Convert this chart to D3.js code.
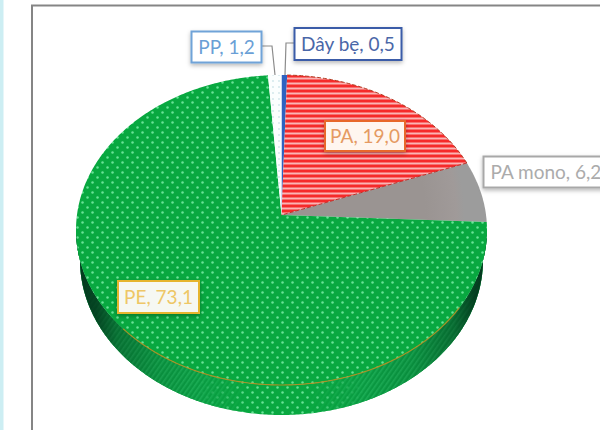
<!DOCTYPE html>
<html>
<head>
<meta charset="utf-8">
<script src="https://cdn.jsdelivr.net/npm/d3@7/dist/d3.min.js"></script>
<style>
  html, body { margin: 0; padding: 0; background: #fff; }
  svg { display: block; }
  text { font-family: Lato, "Open Sans", sans-serif; }
</style>
</head>
<body>
<svg id="chart" width="600" height="430"></svg>
<script>
// Plastic-fibre composition, percent by material (clockwise from 12 o'clock)
const categories = ["Dây bẹ", "PA", "PA mono", "PE", "PP"];
const values = [0.5, 19.0, 6.2, 73.1, 1.2];

// Tilted disc geometry: an ellipse whose apex sits above its centre, as in a perspective view
const cx = 281.5, cyDisc = 230, rx = 205.5, ry = 155, apexY = 215;
const squash = 0.78, wallDrop = 30, wallRx = 201.5;
const twoPi = 2 * Math.PI;

const svg = d3.select("#chart");
const defs = svg.append("defs");

// Page furniture: tinted sliver on the left and the frame of the chart area
svg.append("rect").attr("x", 0).attr("y", 0).attr("width", 3.5).attr("height", 430).attr("fill", "#cdeef3");
svg.append("path").attr("d", "M32,430V5.5H600").attr("fill", "none").attr("stroke", "#858585").attr("stroke-width", 2);

// Fill patterns for each material
const dots = defs.append("pattern").attr("id", "fillPE").attr("patternUnits", "userSpaceOnUse")
  .attr("width", 10).attr("height", 10);
dots.append("rect").attr("width", 10).attr("height", 10).attr("fill", "#08a840");
[[2.5, 2.5], [7.5, 7.5]].forEach(([x, y]) =>
  dots.append("circle").attr("cx", x).attr("cy", y).attr("r", 1.25).attr("fill", "#68e296"));

const stripes = defs.append("pattern").attr("id", "fillPA").attr("patternUnits", "userSpaceOnUse")
  .attr("width", 5).attr("height", 5);
stripes.append("rect").attr("width", 5).attr("height", 5).attr("fill", "#f62a2a");
stripes.append("rect").attr("y", 2.5).attr("width", 5).attr("height", 2).attr("fill", "#fbb4b4");

const pale = defs.append("pattern").attr("id", "fillPP").attr("patternUnits", "userSpaceOnUse")
  .attr("width", 6).attr("height", 6);
pale.append("rect").attr("width", 6).attr("height", 6).attr("fill", "#fbfefe");
pale.append("circle").attr("cx", 3).attr("cy", 3).attr("r", 0.9).attr("fill", "#cfe6ea");

const mono = defs.append("radialGradient").attr("id", "fillMono").attr("gradientUnits", "userSpaceOnUse")
  .attr("cx", cx).attr("cy", apexY).attr("r", rx);
mono.append("stop").attr("offset", "0.7").attr("stop-color", "#9a9492");
mono.append("stop").attr("offset", "0.85").attr("stop-color", "#a09a99");
mono.append("stop").attr("offset", "0.89").attr("stop-color", "#9c9c9c");

const wallStripes = defs.append("pattern").attr("id", "fillWall").attr("patternUnits", "userSpaceOnUse")
  .attr("width", 4).attr("height", 4).attr("patternTransform", "rotate(35)");
wallStripes.append("rect").attr("width", 4).attr("height", 4).attr("fill", "#0a9a42");
wallStripes.append("rect").attr("width", 1.6).attr("height", 4).attr("fill", "#1cae56");

// Wall shading: ribbed towards the sides, dotted in the middle, dark at the far ends
const ribFade = defs.append("linearGradient").attr("id", "ribFade").attr("gradientUnits", "userSpaceOnUse")
  .attr("x1", cx - rx).attr("x2", cx + rx).attr("y1", 0).attr("y2", 0);
[[0, 1], [0.3, 1], [0.42, 0], [0.56, 0], [0.7, 1], [1, 1]]
  .forEach(([o, a]) => ribFade.append("stop").attr("offset", o).attr("stop-color", "#fff").attr("stop-opacity", a));
defs.append("mask").attr("id", "ribMask").attr("maskUnits", "userSpaceOnUse")
  .attr("x", 0).attr("y", 0).attr("width", 600).attr("height", 430)
  .append("rect").attr("width", 600).attr("height", 430).attr("fill", "url(#ribFade)");

const wallShade = defs.append("linearGradient").attr("id", "shadeWall").attr("gradientUnits", "userSpaceOnUse")
  .attr("x1", cx - rx).attr("x2", cx + rx).attr("y1", 0).attr("y2", 0);
[[0, 0.95], [0.05, 0.8], [0.1, 0.4], [0.2, 0.12], [0.3, 0], [0.7, 0], [0.82, 0.12], [0.92, 0.45], [0.97, 0.85], [1, 0.95]]
  .forEach(([o, a]) => wallShade.append("stop").attr("offset", o).attr("stop-color", "#02301a").attr("stop-opacity", a));

const fills = { "Dây bẹ": "#2f62c0", "PA": "url(#fillPA)", "PA mono": "url(#fillMono)", "PE": "url(#fillPE)", "PP": "url(#fillPP)" };

// Where a slice boundary at pie angle a leaves the apex and meets the ellipse rim
const rim = a => {
  const dx = Math.sin(a), dy = -squash * Math.cos(a), off = apexY - cyDisc;
  const A = (dx / rx) ** 2 + (dy / ry) ** 2;
  const B = 2 * dy * off / (ry * ry);
  const C = (off / ry) ** 2 - 1;
  const t = (-B + Math.sqrt(B * B - 4 * A * C)) / (2 * A);
  return [cx + t * dx, apexY + t * dy];
};
const outline = d3.line();
const steps = (a0, a1) => {
  const n = Math.max(2, Math.ceil((a1 - a0) / 0.01));
  return d3.range(n + 1).map(i => a0 + (a1 - a0) * i / n);
};
const sweep = (a0, a1) => steps(a0, a1).map(rim);
const ellipsePts = (p0, p1, radius, yc) =>
  steps(p0, p1).map(p => [cx + radius * Math.sin(p), yc - ry * Math.cos(p)]);

const arcs = d3.pie().sort(null).value((d, i) => values[i])(categories);
const apex = [cx, apexY];

// Side wall along the near half of the disc
const wallPts = ellipsePts(Math.PI / 2, 3 * Math.PI / 2, rx, cyDisc)
  .concat(ellipsePts(Math.PI / 2, 3 * Math.PI / 2, wallRx, cyDisc + wallDrop).reverse());
const wallPath = outline(wallPts) + "Z";
svg.append("path").attr("d", wallPath).attr("fill", "url(#fillPE)");
svg.append("path").attr("d", wallPath).attr("fill", "url(#fillWall)").attr("mask", "url(#ribMask)");
svg.append("path").attr("d", wallPath).attr("fill", "url(#shadeWall)");

// Top face
svg.selectAll("path.slice").data(arcs).join("path")
  .attr("class", "slice")
  .attr("d", d => outline([apex, ...sweep(d.startAngle, d.endAngle)]) + "Z")
  .attr("fill", d => fills[d.data]);

// Rim and wedge edges of the striped slice, and the amber seam above the wall
const pa = arcs[categories.indexOf("PA")];
svg.append("path").attr("d", outline(sweep(pa.startAngle, pa.endAngle)))
  .attr("fill", "none").attr("stroke", "#b03a20").attr("stroke-width", 1).attr("stroke-dasharray", "4 2");
svg.append("path").attr("d", outline([rim(pa.endAngle), apex]))
  .attr("fill", "none").attr("stroke", "#c0302a").attr("stroke-width", 1).attr("stroke-dasharray", "4 2");
svg.append("path").attr("d", outline(ellipsePts(twoPi / 3, twoPi * 0.64, rx, cyDisc)))
  .attr("fill", "none").attr("stroke", "#b58f22").attr("stroke-width", 1.2).attr("stroke-opacity", 0.9);

// Leader lines from the small slices to their callouts
const leaders = { "PP": [[262, 46], [272, 46], [275, 75]], "Dây bẹ": [[294, 43], [286, 43], [285, 75]] };
Object.values(leaders).forEach(pts =>
  svg.append("path").attr("d", outline(pts)).attr("fill", "none").attr("stroke", "#8c8c8c").attr("stroke-width", 1.2));

// Callouts: box bounds and colours per category
const callouts = {
  "PP":      { x: 191.5, y: 31.5, w: 70, h: 31, line: "#6fa3d8", ink: "#6a9fd6", bg: "#ffffff" },
  "Dây bẹ":  { x: 294.5, y: 28,   w: 107, h: 32, line: "#3a5ca8", ink: "#4a67a8", bg: "#ffffff" },
  "PA":      { x: 325,   y: 121,  w: 80, h: 30, line: "#e8682c", ink: "#e59a62", bg: "#fff6ef" },
  "PA mono": { x: 483.5, y: 156.5, w: 135, h: 31, line: "#a8a8a8", ink: "#ababab", bg: "#ffffff" },
  "PE":      { x: 118,   y: 281,  w: 81, h: 32, line: "#e6b52e", ink: "#eec766", bg: "#f6f8f2" }
};
const shadow = defs.append("filter").attr("id", "boxShadow").attr("x", "-20%").attr("y", "-30%").attr("width", "140%").attr("height", "170%");
shadow.append("feDropShadow").attr("dx", 0).attr("dy", 2).attr("stdDeviation", 2)
  .attr("flood-color", "#000").attr("flood-opacity", 0.28);

const fmt = v => v.toFixed(1).replace(".", ",");
const boxes = svg.selectAll("g.callout").data(categories).join("g").attr("class", "callout");
boxes.append("rect")
  .attr("x", d => callouts[d].x).attr("y", d => callouts[d].y)
  .attr("width", d => callouts[d].w).attr("height", d => callouts[d].h)
  .attr("fill", d => callouts[d].bg).attr("stroke", d => callouts[d].line).attr("stroke-width", 2)
  .attr("filter", "url(#boxShadow)");
boxes.append("text")
  .attr("x", d => callouts[d].x + (d === "PA mono" ? 7 : callouts[d].w / 2))
  .attr("y", d => callouts[d].y + callouts[d].h / 2 + 6.5)
  .attr("text-anchor", d => d === "PA mono" ? "start" : "middle")
  .attr("font-size", 19)
  .attr("fill", d => callouts[d].ink)
  .text(d => `${d}, ${fmt(values[categories.indexOf(d)])}`);
</script>
</body>
</html>
